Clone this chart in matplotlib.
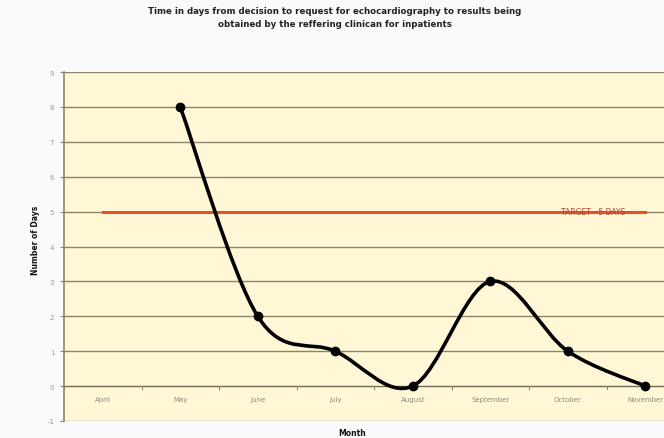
import matplotlib
matplotlib.use("Agg")
import matplotlib.pyplot as plt
import numpy as np
from matplotlib.path import Path
from matplotlib.patches import PathPatch

months = ["April", "May", "June", "July", "August", "September", "October", "November"]
days = [None, 8, 2, 1, 0, 3, 1, 0]
target = 5
target_label = "TARGET - 5 DAYS"
yticks = list(range(-1, 10))

fig = plt.figure(figsize=(6.64, 4.39), dpi=100)
fig.patch.set_facecolor("#f8fafb")
W, H = 664, 439
left, right, top, bottom = 64, 684, 73, 422
ax = fig.add_axes([left / W, 1 - bottom / H, (right - left) / W, (bottom - top) / H])
ax.set_facecolor("#fff7d6")
ax.set_xlim(-0.5, len(months) - 0.5)
ax.set_ylim(-1, 9)

for y in yticks:
    ax.axhline(y, color="#8c8468" if y != 0 else "#6e6a58", lw=1.0, zorder=1)

# category tick marks on zero line
for b in np.arange(-0.5, len(months) + 0.5, 1):
    ax.plot([b, b], [0, -0.08], color="#8c8468", lw=0.8, zorder=1, clip_on=False)

ax.set_yticks(yticks)
ax.set_yticklabels([str(v) for v in yticks], fontsize=5, color="#9a9a9a")
ax.set_xticks([])
ax.tick_params(axis="y", length=3, color="#888870", pad=4)
for s in ["top", "right", "bottom"]:
    ax.spines[s].set_visible(False)
ax.spines["left"].set_color("#8c8468")
ax.spines["left"].set_linewidth(1.2)

for i, m in enumerate(months):
    ax.text(i, -0.38, m, ha="center", va="center", fontsize=5, color="#8a8a80")

# target line
ax.plot([0, len(months) - 1], [target, target], color="#e8502a", lw=2.2, zorder=2)
ax.text(6.33, target, target_label, ha="center", va="center", fontsize=5.5, color="#b04a30", zorder=3)

# smoothed series (Catmull-Rom Bezier as Excel smoothing)
xs = [i for i, v in enumerate(days) if v is not None]
ys = [v for v in days if v is not None]
pts = np.array(list(zip(xs, ys)), dtype=float)
verts = [tuple(pts[0])]
codes = [Path.MOVETO]
n = len(pts)
for i in range(n - 1):
    p0 = pts[i - 1] if i > 0 else pts[i]
    p1 = pts[i]
    p2 = pts[i + 1]
    p3 = pts[i + 2] if i + 2 < n else pts[i + 1]
    c1 = p1 + (p2 - p0) / 6
    c2 = p2 - (p3 - p1) / 6
    verts += [tuple(c1), tuple(c2), tuple(p2)]
    codes += [Path.CURVE4] * 3
patch = PathPatch(Path(verts, codes), facecolor="none", edgecolor="black", lw=2.6, zorder=4, clip_on=False)
ax.add_patch(patch)
ax.scatter(xs, ys, s=36, color="black", zorder=5, clip_on=False)

fig.text(335 / W, 1 - 18 / H,
         "Time in days from decision to request for echocardiography to results being\nobtained by the reffering clinican for inpatients",
         ha="center", va="center", fontsize=6.2, fontweight="bold", color="#222222", linespacing=1.5)
fig.text(36 / W, 1 - 240 / H, "Number of Days", rotation=90, ha="center", va="center",
         fontsize=5.5, fontweight="bold", color="#111111")
fig.text(352 / W, 1 - 434 / H, "Month", ha="center", va="center",
         fontsize=5.5, fontweight="bold", color="#111111")

fig.savefig("out.png", dpi=100, facecolor=fig.get_facecolor())
